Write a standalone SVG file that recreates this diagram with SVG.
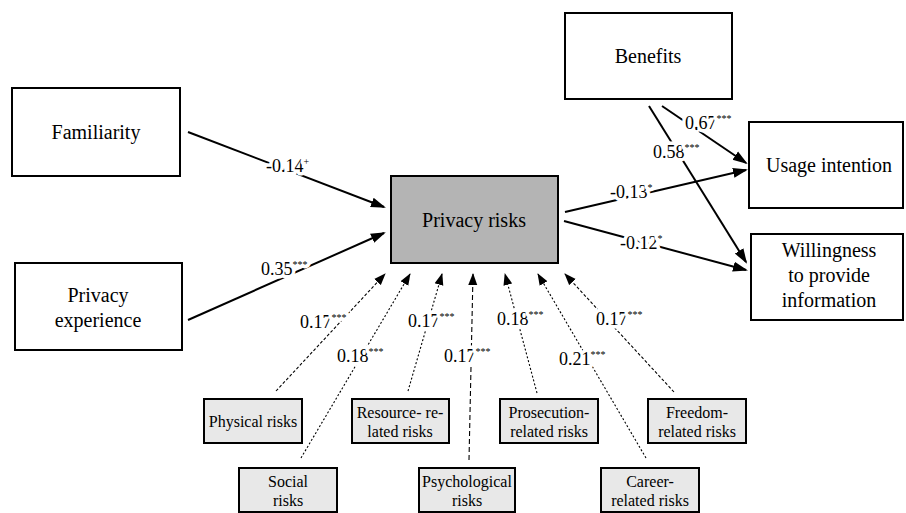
<svg xmlns="http://www.w3.org/2000/svg" width="906" height="513" viewBox="0 0 906 513" font-family="Liberation Serif, serif">
<style>
.box{fill:#fff;stroke:#000;stroke-width:2}
.main{fill:#b4b4b4;stroke:#000;stroke-width:2}
.small{fill:#e8e8e8;stroke:#000;stroke-width:2}
.t{font-size:20px;fill:#000;text-anchor:middle}
.ts{font-size:16px;fill:#000;text-anchor:middle}
.lab{font-size:18px;fill:#000;stroke:#fff;stroke-width:7;stroke-linejoin:round;paint-order:stroke}
.sup{font-size:10px}
.solid{stroke:#000;stroke-width:2;fill:none;marker-end:url(#ah)}
.dash{stroke:#000;stroke-width:1.1;fill:none;marker-end:url(#ahs)}
</style>
<defs>
<marker id="ah" markerUnits="userSpaceOnUse" markerWidth="16" markerHeight="12" refX="13" refY="5" orient="auto" viewBox="0 0 16 10">
<path d="M0,0 L15,5 L0,10 Z" fill="#000"/>
</marker>
<marker id="ahs" markerUnits="userSpaceOnUse" markerWidth="13" markerHeight="10" refX="11" refY="4.5" orient="auto" viewBox="0 0 13 9">
<path d="M0,0 L12,4.5 L0,9 Z" fill="#000"/>
</marker>
</defs>
<g id="connectors">
<line class="solid" x1="188" y1="132" x2="384" y2="207"/>
<line class="solid" x1="188" y1="320" x2="384" y2="233"/>
<line class="solid" x1="565" y1="212" x2="746" y2="170"/>
<line class="solid" x1="564" y1="221" x2="746" y2="270"/>
<line class="solid" x1="662" y1="106" x2="746" y2="163"/>
<line class="solid" x1="649" y1="106" x2="746" y2="262"/>
<line class="dash" stroke-dasharray="3,2" x1="276" y1="391" x2="385" y2="274"/>
<line class="dash" stroke-dasharray="2,2" x1="301" y1="458" x2="410" y2="274"/>
<line class="dash" stroke-dasharray="2,2" x1="408" y1="391" x2="442" y2="274"/>
<line class="dash" stroke-dasharray="5,3" x1="469" y1="460" x2="473" y2="274"/>
<line class="dash" stroke-dasharray="2,2" x1="537" y1="393" x2="505" y2="274"/>
<line class="dash" stroke-dasharray="2,2" x1="646" y1="458" x2="538" y2="274"/>
<line class="dash" stroke-dasharray="3,2" x1="674" y1="392" x2="565" y2="274"/>
<text class="lab" x="266" y="172">-0.14<tspan class="sup" dy="-7">+</tspan></text>
<text class="lab" x="261" y="275">0.35<tspan class="sup" dy="-7">***</tspan></text>
<text class="lab" x="610" y="198">-0.13<tspan class="sup" dy="-7">*</tspan></text>
<text class="lab" x="620" y="249">-0.12<tspan class="sup" dy="-7">*</tspan></text>
<text class="lab" x="685" y="129">0.67<tspan class="sup" dy="-7">***</tspan></text>
<text class="lab" x="653" y="158">0.58<tspan class="sup" dy="-7">***</tspan></text>
<text class="lab" x="300" y="328">0.17<tspan class="sup" dy="-7">***</tspan></text>
<text class="lab" x="337" y="362">0.18<tspan class="sup" dy="-7">***</tspan></text>
<text class="lab" x="408" y="327">0.17<tspan class="sup" dy="-7">***</tspan></text>
<text class="lab" x="444" y="362">0.17<tspan class="sup" dy="-7">***</tspan></text>
<text class="lab" x="497" y="325">0.18<tspan class="sup" dy="-7">***</tspan></text>
<text class="lab" x="559" y="365">0.21<tspan class="sup" dy="-7">***</tspan></text>
<text class="lab" x="596" y="325">0.17<tspan class="sup" dy="-7">***</tspan></text>
</g>
<g id="familiarity"><rect class="box" x="12" y="88" width="168" height="88"/><text class="t" x="96" y="139">Familiarity</text></g>
<g id="privacy-experience"><rect class="box" x="15" y="263" width="167" height="87"/><text class="t" x="98" y="302">Privacy</text><text class="t" x="98" y="327">experience</text></g>
<g id="privacy-risks"><rect class="main" x="391" y="176" width="167" height="87"/><text class="t" x="474" y="227">Privacy risks</text></g>
<g id="benefits"><rect class="box" x="565" y="13" width="167" height="86"/><text class="t" x="648" y="63">Benefits</text></g>
<g id="usage-intention"><rect class="box" x="749" y="122" width="154" height="86"/><text class="t" x="829" y="172">Usage intention</text></g>
<g id="willingness"><rect class="box" x="751" y="234" width="152" height="86"/><text class="t" x="829" y="257">Willingness</text><text class="t" x="829" y="282">to provide</text><text class="t" x="829" y="307">information</text></g>
<g id="physical-risks"><rect class="small" x="204" y="399" width="98" height="44"/><text class="ts" x="253" y="427">Physical risks</text></g>
<g id="social-risks"><rect class="small" x="239" y="468" width="98" height="44"/><text class="ts" x="288" y="487">Social</text><text class="ts" x="288" y="506">risks</text></g>
<g id="resource-risks"><rect class="small" x="352" y="399" width="97" height="44"/><text class="ts" x="400" y="418">Resource- re-</text><text class="ts" x="400" y="437">lated risks</text></g>
<g id="psychological-risks"><rect class="small" x="419" y="468" width="96" height="44"/><text class="ts" x="467" y="487">Psychological</text><text class="ts" x="467" y="506">risks</text></g>
<g id="prosecution-risks"><rect class="small" x="500" y="399" width="98" height="44"/><text class="ts" x="549" y="418">Prosecution-</text><text class="ts" x="549" y="437">related risks</text></g>
<g id="career-risks"><rect class="small" x="601" y="468" width="98" height="44"/><text class="ts" x="650" y="487">Career-</text><text class="ts" x="650" y="506">related risks</text></g>
<g id="freedom-risks"><rect class="small" x="648" y="399" width="98" height="44"/><text class="ts" x="697" y="418">Freedom-</text><text class="ts" x="697" y="437">related risks</text></g>
</svg>
